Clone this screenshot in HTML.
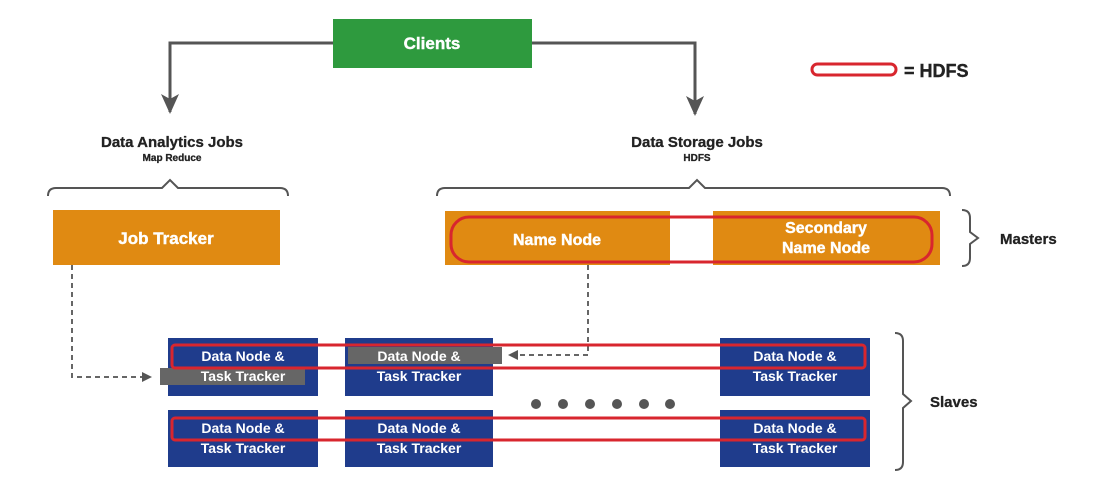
<!DOCTYPE html>
<html><head><style>
html,body{margin:0;padding:0;background:#fff;}
svg{display:block;font-family:"Liberation Sans",Arial,sans-serif;font-weight:bold;}
</style></head><body>
<svg width="1112" height="494" viewBox="0 0 1112 494" xmlns="http://www.w3.org/2000/svg">
<defs>
<marker id="ah" markerWidth="10" markerHeight="10" refX="8" refY="5" orient="auto" markerUnits="userSpaceOnUse"><path d="M0,0 L10,5 L0,10 Z" fill="#555"/></marker>
<marker id="ab" markerWidth="20" markerHeight="18" refX="18" refY="9" orient="auto" markerUnits="userSpaceOnUse"><path d="M0,0 L20,9 L0,18 L5,9 Z" fill="#555"/></marker>
</defs>
<rect x="333" y="19" width="199" height="49" fill="#2e9a3e"/>
<text x="432" y="49" fill="#fff" font-size="17" text-anchor="middle" stroke="#fff" stroke-width="0.4">Clients</text>
<path d="M333,43 H170 V112" fill="none" stroke="#555" stroke-width="3" marker-end="url(#ab)"/>
<path d="M532,43 H695 V114" fill="none" stroke="#555" stroke-width="3" marker-end="url(#ab)"/>
<rect x="812" y="64" width="84" height="11" rx="5.5" fill="none" stroke="#d8262e" stroke-width="3"/>
<text x="904" y="77" font-size="18" fill="#222" stroke="#222" stroke-width="0.4">= HDFS</text>
<g fill="#222" stroke="#222" stroke-width="0.3">
<text x="172" y="147" font-size="15" text-anchor="middle">Data Analytics Jobs</text>
<text x="172" y="161" font-size="10" text-anchor="middle">Map Reduce</text>
<text x="697" y="147" font-size="15" text-anchor="middle">Data Storage Jobs</text>
<text x="697" y="161" font-size="10" text-anchor="middle">HDFS</text>
</g>
<path d="M48,196 Q48,188 56,188 H162 L170,180 L178,188 H280 Q288,188 288,196" fill="none" stroke="#555" stroke-width="2"/>
<path d="M437,196 Q437,188 445,188 H689 L697,180 L705,188 H942 Q950,188 950,196" fill="none" stroke="#555" stroke-width="2"/>
<rect x="53" y="210" width="227" height="55" fill="#e08a12"/>
<text x="166" y="244" font-size="17" fill="#fff" text-anchor="middle" stroke="#fff" stroke-width="0.4">Job Tracker</text>
<rect x="445" y="211" width="225" height="54" fill="#e08a12"/>
<rect x="713" y="211" width="227" height="54" fill="#e08a12"/>
<rect x="451" y="217" width="481" height="45" rx="18" fill="none" stroke="#d8262e" stroke-width="3"/>
<g fill="#fff" stroke="#fff" stroke-width="0.4" text-anchor="middle" font-size="16">
<text x="557" y="245">Name Node</text>
<text x="826" y="233">Secondary</text>
<text x="826" y="253">Name Node</text>
</g>
<path d="M962,210 Q970,210 970,218 V232 L978,238 L970,244 V258 Q970,266 962,266" fill="none" stroke="#555" stroke-width="2"/>
<text x="1000" y="244" font-size="15" fill="#222" stroke="#222" stroke-width="0.3">Masters</text>
<path d="M72,265 V377 H150" fill="none" stroke="#666" stroke-width="2" stroke-dasharray="5,4" marker-end="url(#ah)"/>
<path d="M588,265 V355 H510" fill="none" stroke="#666" stroke-width="2" stroke-dasharray="5,4" marker-end="url(#ah)"/>
<g fill="#1f3c8c">
<rect x="168" y="338" width="150" height="58"/><rect x="345" y="338" width="148" height="58"/><rect x="720" y="338" width="150" height="58"/>
<rect x="168" y="410" width="150" height="57"/><rect x="345" y="410" width="148" height="57"/><rect x="720" y="410" width="150" height="57"/>
</g>
<rect x="160" y="368" width="145" height="17" fill="#666"/>
<rect x="348" y="347" width="154" height="17" fill="#666"/>
<g fill="none" stroke="#d8262e" stroke-width="3">
<rect x="172" y="345" width="693" height="23" rx="3"/>
<rect x="172" y="418" width="693" height="22" rx="3"/>
</g>
<g font-size="14" fill="#fff" text-anchor="middle">
<text x="243" y="361">Data Node &amp;</text><text x="243" y="381">Task Tracker</text>
<text x="419" y="361">Data Node &amp;</text><text x="419" y="381">Task Tracker</text>
<text x="795" y="361">Data Node &amp;</text><text x="795" y="381">Task Tracker</text>
<text x="243" y="433">Data Node &amp;</text><text x="243" y="453">Task Tracker</text>
<text x="419" y="433">Data Node &amp;</text><text x="419" y="453">Task Tracker</text>
<text x="795" y="433">Data Node &amp;</text><text x="795" y="453">Task Tracker</text>
</g>
<g fill="#555">
<circle cx="536" cy="404" r="5"/><circle cx="563" cy="404" r="5"/><circle cx="590" cy="404" r="5"/><circle cx="617" cy="404" r="5"/><circle cx="644" cy="404" r="5"/><circle cx="670" cy="404" r="5"/>
</g>
<path d="M895,333 Q903,333 903,341 V394 L911,401 L903,408 V462 Q903,470 895,470" fill="none" stroke="#555" stroke-width="2"/>
<text x="930" y="407" font-size="15" fill="#222" stroke="#222" stroke-width="0.3">Slaves</text>
</svg>
</body></html>
